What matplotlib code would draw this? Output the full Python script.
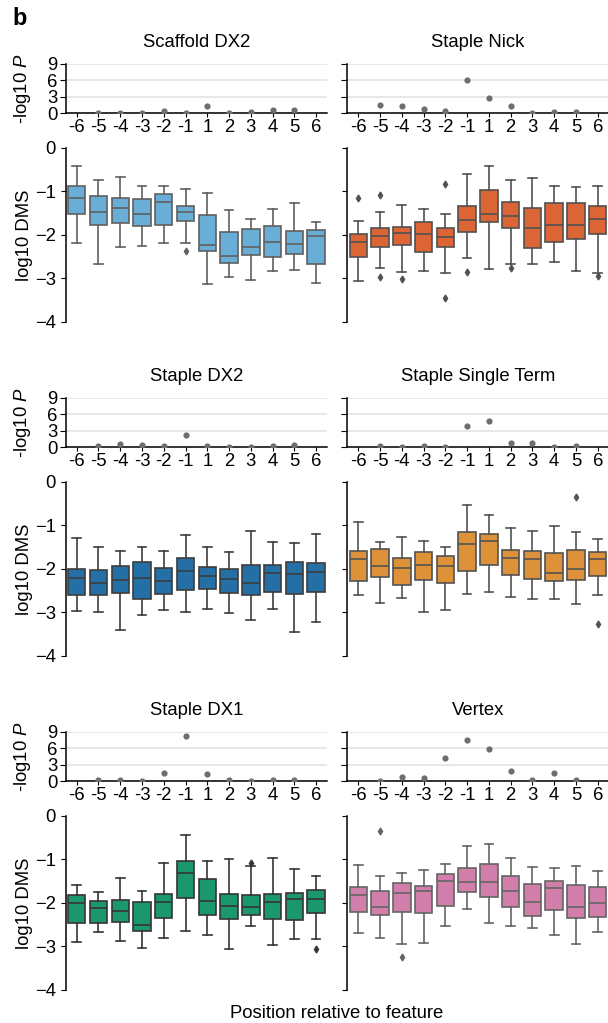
import colorsys

import numpy as np
import matplotlib
matplotlib.use('Agg')
import matplotlib.pyplot as plt

plt.rcParams['font.family'] = ['Liberation Sans', 'DejaVu Sans']
plt.rcParams['mathtext.fontset'] = 'custom'
plt.rcParams['mathtext.rm'] = 'Liberation Sans'
plt.rcParams['mathtext.it'] = 'Liberation Sans:italic'

positions = ['-6', '-5', '-4', '-3', '-2', '-1', '1', '2', '3', '4', '5', '6']
nan = np.nan

# -log10 P per position (no test at the two ends)
scaffold_dx2_p = [nan, 0.05, 0.03, 0.03, 0.43, 0.05, 1.28, 0.03, 0.2, 0.67, 0.55, nan]
staple_nick_p = [nan, 1.46, 1.4, 0.73, 0.43, 6.16, 2.8, 1.34, 0.1, 0.15, 0.15, nan]
staple_dx2_p = [nan, 0.18, 0.55, 0.37, 0.25, 2.2, 0.3, 0.06, 0.06, 0.3, 0.37, nan]
single_term_p = [nan, 0.18, 0.06, 0.25, 0.12, 3.86, 4.84, 0.73, 0.73, 0.06, 0.25, nan]
staple_dx1_p = [nan, 0.19, 0.25, 0.06, 1.6, 8.3, 1.37, 0.19, 0.12, 0.19, 0.19, nan]
vertex_p = [nan, 0.12, 0.8, 0.62, 4.3, 7.5, 5.96, 1.8, 0.3, 1.43, 0.25, nan]

# log10 DMS box stats per position: (whislo, q1, med, q3, whishi)
scaffold_dx2_box = [
    (-2.18, -1.53, -1.16, -0.89, -0.42), (-2.67, -1.78, -1.47, -1.11, -0.73),
    (-2.27, -1.73, -1.39, -1.16, -0.68), (-2.26, -1.79, -1.52, -1.18, -0.89),
    (-2.18, -1.78, -1.24, -1.06, -0.88), (-2.19, -1.68, -1.47, -1.33, -0.94),
    (-3.12, -2.38, -2.24, -1.55, -1.04), (-2.96, -2.65, -2.49, -1.93, -1.44),
    (-3.04, -2.47, -2.28, -1.86, -1.63), (-2.84, -2.51, -2.16, -1.80, -1.41),
    (-2.81, -2.45, -2.22, -1.91, -1.28), (-3.10, -2.66, -2.03, -1.90, -1.70),
]
staple_nick_box = [
    (-3.06, -2.51, -2.16, -1.99, -1.68), (-2.76, -2.28, -2.03, -1.84, -1.47),
    (-2.85, -2.24, -1.95, -1.81, -1.31), (-2.83, -2.39, -1.99, -1.70, -1.41),
    (-2.88, -2.29, -2.06, -1.84, -1.52), (-2.54, -1.94, -1.67, -1.34, -0.60),
    (-2.79, -1.71, -1.53, -0.98, -0.43), (-2.67, -1.85, -1.57, -1.25, -0.74),
    (-2.68, -2.31, -1.84, -1.38, -0.69), (-2.62, -2.17, -1.77, -1.28, -0.89),
    (-2.84, -2.10, -1.78, -1.28, -0.91), (-2.88, -1.98, -1.63, -1.34, -0.88),
]
staple_dx2_box = [
    (-2.97, -2.60, -2.20, -2.00, -1.30), (-2.98, -2.61, -2.33, -2.03, -1.51),
    (-3.40, -2.55, -2.26, -1.94, -1.58), (-3.07, -2.69, -2.20, -1.85, -1.51),
    (-2.94, -2.58, -2.29, -1.97, -1.59), (-3.00, -2.49, -2.05, -1.75, -1.22),
    (-2.93, -2.47, -2.16, -1.96, -1.51), (-3.02, -2.56, -2.23, -2.00, -1.62),
    (-3.17, -2.59, -2.33, -1.92, -1.14), (-2.91, -2.52, -2.09, -1.91, -1.39),
    (-3.44, -2.58, -2.12, -1.85, -1.40), (-3.21, -2.54, -2.08, -1.86, -1.20),
]
single_term_box = [
    (-2.59, -2.29, -1.77, -1.59, -0.93), (-2.79, -2.19, -1.93, -1.55, -1.38),
    (-2.68, -2.37, -1.98, -1.74, -1.28), (-2.98, -2.25, -1.91, -1.62, -1.36),
    (-2.94, -2.32, -1.93, -1.70, -1.50), (-2.57, -2.06, -1.43, -1.15, -0.54),
    (-2.52, -1.91, -1.35, -1.19, -0.77), (-2.65, -2.15, -1.74, -1.57, -1.07),
    (-2.69, -2.23, -1.77, -1.59, -1.12), (-2.70, -2.29, -2.10, -1.64, -1.01),
    (-2.81, -2.25, -2.00, -1.57, -1.16), (-2.61, -2.17, -1.78, -1.61, -1.32),
]
staple_dx1_box = [
    (-2.89, -2.46, -2.00, -1.82, -1.60), (-2.67, -2.46, -2.12, -1.95, -1.75),
    (-2.88, -2.43, -2.18, -1.93, -1.44), (-3.03, -2.65, -2.50, -1.98, -1.73),
    (-2.80, -2.35, -1.98, -1.80, -1.08), (-2.65, -1.88, -1.32, -1.04, -0.45),
    (-2.74, -2.29, -1.95, -1.45, -1.04), (-3.06, -2.37, -2.07, -1.79, -1.00),
    (-2.53, -2.29, -2.09, -1.82, -1.16), (-2.96, -2.37, -1.98, -1.79, -0.98),
    (-2.82, -2.39, -1.92, -1.77, -1.22), (-2.82, -2.24, -1.91, -1.70, -1.39),
]
vertex_box = [
    (-2.70, -2.22, -1.82, -1.63, -1.13), (-2.81, -2.29, -2.09, -1.73, -1.39),
    (-2.94, -2.20, -1.78, -1.54, -1.31), (-2.93, -2.24, -1.73, -1.61, -1.25),
    (-2.52, -2.07, -1.50, -1.34, -1.11), (-2.13, -1.76, -1.53, -1.20, -0.70),
    (-2.47, -1.86, -1.52, -1.11, -0.66), (-2.54, -2.09, -1.72, -1.39, -0.98),
    (-2.58, -2.30, -1.98, -1.56, -1.18), (-2.73, -2.17, -1.67, -1.50, -1.20),
    (-2.95, -2.35, -2.09, -1.60, -1.15), (-2.68, -2.33, -2.00, -1.63, -1.27),
]

# outliers, keyed by position
scaffold_dx2_fliers = {'-1': [-2.36]}
staple_nick_fliers = {'-6': [-1.15], '-5': [-1.09, -2.97], '-4': [-3.01],
                      '-2': [-0.83, -3.45], '-1': [-2.85], '2': [-2.77],
                      '6': [-2.94]}
staple_dx2_fliers = {}
single_term_fliers = {'5': [-0.35], '6': [-3.26]}
staple_dx1_fliers = {'3': [-1.09], '6': [-3.05]}
vertex_fliers = {'-5': [-0.35], '-4': [-3.25]}

titles = ['Scaffold DX2', 'Staple Nick', 'Staple DX2', 'Staple Single Term',
          'Staple DX1', 'Vertex']
colors = ['#69aed6', '#db6534', '#2470a6', '#dd9138', '#1a976f', '#d17eab']

W, H = 608, 1023


def rect(x0, top, x1, bottom):
    return [x0 / W, 1 - bottom / H, (x1 - x0) / W, (bottom - top) / H]


fig = plt.figure(figsize=(W / 100, H / 100), dpi=100)
fs = 13.3

panels = [
    (scaffold_dx2_p, scaffold_dx2_box, scaffold_dx2_fliers),
    (staple_nick_p, staple_nick_box, staple_nick_fliers),
    (staple_dx2_p, staple_dx2_box, staple_dx2_fliers),
    (single_term_p, single_term_box, single_term_fliers),
    (staple_dx1_p, staple_dx1_box, staple_dx1_fliers),
    (vertex_p, vertex_box, vertex_fliers),
]

xs = np.arange(len(positions))
for i, (pvals, box, fliers) in enumerate(panels):
    row, col = divmod(i, 2)
    x0 = [65.8, 347.4][col]
    x1 = x0 + 261.2
    off = 334 * row

    # -log10 P strip
    axp = fig.add_axes(rect(x0, 64 + off, x1, 113.3 + off))
    axp.scatter(xs, pvals, s=20, color='#6e6e6e', linewidths=0, zorder=3)
    axp.set_xlim(-0.5, len(positions) - 0.5)
    axp.set_ylim(0, 9)
    axp.set_yticks([0, 3, 6, 9])
    axp.set_xticks(xs)
    axp.set_xticklabels(positions)
    axp.yaxis.grid(True, color='#e3e3e3', lw=1.2)
    axp.set_axisbelow(True)
    for s in ['top', 'right']:
        axp.spines[s].set_visible(False)
    axp.tick_params(axis='x', length=3, pad=1, labelsize=fs)
    axp.tick_params(axis='y', length=4, pad=2, labelsize=fs)
    axp.set_title(titles[i], fontsize=fs, pad=12)

    # box plots
    fc = colors[i]
    lum = colorsys.rgb_to_hls(*matplotlib.colors.to_rgb(fc))[1] * 0.6
    gray = (lum, lum, lum)
    stats = [dict(whislo=b[0], q1=b[1], med=b[2], q3=b[3], whishi=b[4],
                  fliers=fliers.get(p, []))
             for p, b in zip(positions, box)]
    axb = fig.add_axes(rect(x0, 147.7 + off, x1, 322 + off))
    lw = 1.2
    axb.bxp(stats, positions=xs, widths=0.8, capwidths=0.4, patch_artist=True,
            boxprops=dict(facecolor=fc, edgecolor=gray, linewidth=lw),
            medianprops=dict(color=gray, linewidth=lw),
            whiskerprops=dict(color=gray, linewidth=lw),
            capprops=dict(color=gray, linewidth=lw),
            flierprops=dict(marker='d', markersize=3.5, markerfacecolor=gray,
                            markeredgecolor=gray, linestyle='none'))
    axb.set_xlim(-0.5, len(positions) - 0.5)
    axb.set_ylim(-4, 0)
    axb.set_yticks([0, -1, -2, -3, -4])
    axb.set_xticks([])
    for s in ['top', 'right', 'bottom']:
        axb.spines[s].set_visible(False)
    axb.tick_params(axis='y', labelsize=fs)

    for ax in (axp, axb):
        ax.spines['left'].set_linewidth(1.1)
        ax.spines['bottom'].set_linewidth(1.1)

    if col == 0:
        axp.set_ylabel('-log10 $P$', fontsize=fs)
        axp.yaxis.set_label_coords(-0.125, 0.5)
        axb.set_ylabel('log10 DMS', fontsize=fs)
        axb.yaxis.set_label_coords(-0.126, 0.5)
    else:
        axp.set_yticklabels([])
        axb.set_yticklabels([])

fig.text(12 / W, 1 - 25 / H, 'b', fontsize=17, fontweight='bold')
fig.text(337 / W, 1 - 1018 / H, 'Position relative to feature',
         fontsize=fs, ha='center', va='baseline')

fig.savefig('out.png', dpi=100)
